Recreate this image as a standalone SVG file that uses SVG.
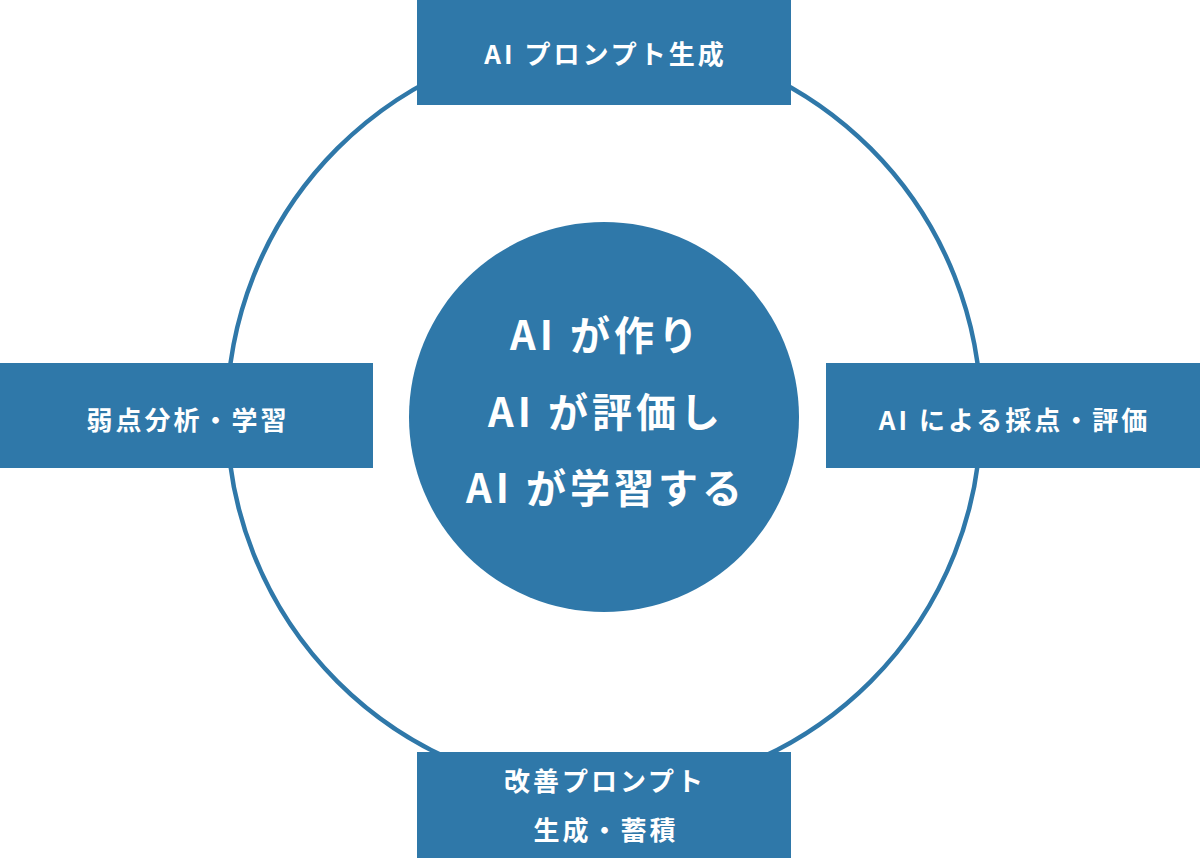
<svg xmlns="http://www.w3.org/2000/svg" width="1200" height="858" viewBox="0 0 1200 858">
<style>
.box{fill:#2f78a9}
.lbl{fill:#ffffff;font-family:"Noto Sans CJK JP","Noto Sans",sans-serif;font-size:26px;font-weight:700;letter-spacing:3px;text-anchor:middle}
.big{fill:#ffffff;font-family:"Noto Sans CJK JP","Noto Sans",sans-serif;font-size:40px;font-weight:700;letter-spacing:4px;text-anchor:middle}
</style>
<rect width="1200" height="858" fill="#ffffff"/>
<g id="connectors">
<circle cx="604" cy="415" r="377" fill="none" stroke="#2f78a9" stroke-width="4.5"/>
</g>
<g id="center">
<circle cx="604" cy="417" r="195" fill="#2f78a9"/>
<text class="big" x="606" y="350">AI が作り</text>
<text class="big" x="606" y="426.5">AI が評価し</text>
<text class="big" x="606" y="503">AI が学習する</text>
</g>
<g id="top">
<rect class="box" x="417" y="0" width="374" height="105"/>
<text class="lbl" x="605.5" y="63.5">AI プロンプト生成</text>
</g>
<g id="right">
<rect class="box" x="826" y="363" width="374" height="105"/>
<text class="lbl" x="1014.5" y="430">AI による採点・評価</text>
</g>
<g id="bottom">
<rect class="box" x="417" y="752" width="374" height="106"/>
<text class="lbl" x="605" y="791">改善プロンプト</text>
<text class="lbl" x="606" y="839.5">生成・蓄積</text>
</g>
<g id="left">
<rect class="box" x="0" y="363" width="373" height="105"/>
<text class="lbl" x="188" y="430">弱点分析・学習</text>
</g>
</svg>
